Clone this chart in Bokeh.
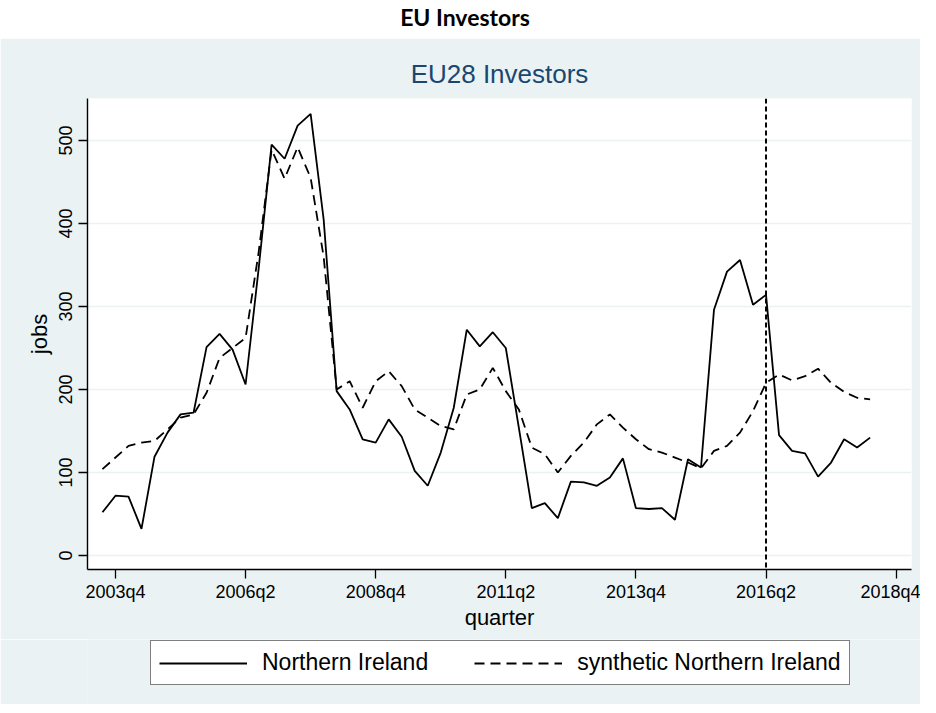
from bokeh.plotting import figure
from bokeh.models import (Range1d, FixedTicker, Span, Legend, LegendItem, Div, Title)
from bokeh.layouts import column
from bokeh.embed import file_html
from bokeh.resources import INLINE

# Stata quarterly index: 2003q3 = 174 ... 2018q2 = 233
quarters = list(range(174, 234))

northern_ireland = [52, 72, 71, 32, 119, 148, 170, 172, 251, 267,
                    248, 206, 345, 495, 478, 518, 532, 405, 198, 176,
                    140, 136, 164, 143, 102, 84, 124, 178, 272, 252,
                    269, 250, 154, 57, 63, 45, 89, 88, 84, 94,
                    117, 57, 56, 57, 43, 116, 106, 296, 342, 356,
                    302, 314, 145, 126, 123, 95, 112, 140, 130, 142]

synthetic_ni = [104, 118, 132, 136, 138, 152, 166, 170, 196, 238,
                250, 262, 365, 489, 454, 492, 455, 360, 200, 210,
                178, 210, 222, 204, 176, 166, 156, 152, 194, 200,
                226, 198, 176, 130, 122, 100, 120, 136, 158, 170,
                154, 140, 128, 124, 118, 112, 105, 126, 132, 148,
                174, 208, 218, 211, 216, 225, 208, 197, 190, 188]

x_ticks = [175, 185, 195, 205, 215, 225, 235]
x_tick_labels = ["2003q4", "2006q2", "2008q4", "2011q2", "2013q4", "2016q2", "2018q4"]
y_ticks = [0, 100, 200, 300, 400, 500]
treatment_quarter = 225  # 2016q2
series_names = ["Northern Ireland", "synthetic Northern Ireland"]

PANEL = "#EAF2F3"
FONT = "Liberation Sans"

header = Div(
    text='<div style="width:920px;text-align:center;font-family:Lato;font-weight:bold;'
         'font-size:23px;line-height:24px;color:#000">EU Investors</div>',
    width=920, height=28)

p = figure(frame_width=824, frame_height=471, output_backend="svg", toolbar_location=None,
           x_range=Range1d(172.85, 236.18), y_range=Range1d(-16.9, 550.6),
           min_border_left=87, min_border_right=9, min_border_top=60,
           min_border_bottom=70)
p.border_fill_color = PANEL
p.background_fill_color = "white"
p.outline_line_color = None

p.title = Title(text="EU28 Investors", align="center", text_font=FONT,
                text_font_size="26px", text_font_style="normal",
                text_color="#1a476f", standoff=20)

SOLID = dict(line_color="black", line_width=1.8)
DASHED = dict(line_color="black", line_width=1.8, line_dash="10 6")

p.line(quarters, northern_ireland, **SOLID)
p.line(quarters, synthetic_ni, **DASHED)

p.add_layout(Span(location=treatment_quarter, dimension="height",
                  line_color="black", line_width=2, line_dash="5 3"))

# axes
for ax in (p.xaxis[0], p.yaxis[0]):
    ax.axis_line_color = "black"
    ax.axis_line_width = 1.4
    ax.major_tick_line_color = "black"
    ax.major_tick_line_width = 1.3
    ax.major_tick_out = 9
    ax.major_tick_in = 0
    ax.minor_tick_line_color = None
    ax.major_label_text_font = FONT
    ax.major_label_text_font_size = "18px"
    ax.major_label_text_color = "black"
    ax.axis_label_text_font = FONT
    ax.axis_label_text_font_size = "22px"
    ax.axis_label_text_font_style = "normal"
    ax.axis_label_text_color = "black"

p.xaxis.ticker = FixedTicker(ticks=x_ticks)
p.xaxis.major_label_overrides = {t: l for t, l in zip(x_ticks, x_tick_labels)}
p.xaxis.axis_label = "quarter"
p.xaxis.major_label_standoff = 3
p.xaxis.axis_label_standoff = 0

p.yaxis.ticker = FixedTicker(ticks=y_ticks)
p.yaxis.major_label_orientation = "vertical"
p.yaxis.axis_label = "jobs"
p.yaxis.major_label_standoff = 6
p.yaxis.axis_label_standoff = 5

p.xgrid.grid_line_color = None
p.ygrid.grid_line_color = PANEL
p.ygrid.grid_line_width = 1.6
p.ygrid.ticker = FixedTicker(ticks=y_ticks)

# legend strip: a separate panel (same x scale, data kept out of its tiny y window)
lg = figure(frame_width=920, frame_height=65, output_backend="svg", toolbar_location=None,
            x_range=Range1d(172.85, 236.18), y_range=Range1d(-1000, -990),
            x_axis_location=None, y_axis_location=None,
            min_border_left=0, min_border_right=0, min_border_top=0, min_border_bottom=0)
lg.border_fill_color = PANEL
lg.background_fill_color = PANEL
lg.outline_line_color = None
lg.grid.grid_line_color = None
k1 = lg.line(quarters, northern_ireland, **SOLID)
k2 = lg.line(quarters, synthetic_ni, **DASHED)

legend = Legend(items=[LegendItem(label=series_names[0], renderers=[k1]),
                       LegendItem(label=series_names[1], renderers=[k2])],
                orientation="horizontal", location=(150, 19),
                label_text_font=FONT, label_text_font_size="23px",
                label_text_color="black",
                glyph_width=88, glyph_height=20, label_standoff=15,
                spacing=46, padding=8, margin=0,
                border_line_color="black", border_line_width=1.2,
                background_fill_color="white", background_fill_alpha=1.0)
lg.add_layout(legend, "center")

layout = column(header, p, lg, spacing=0)
open("out.html", "w").write(file_html(layout, INLINE))
